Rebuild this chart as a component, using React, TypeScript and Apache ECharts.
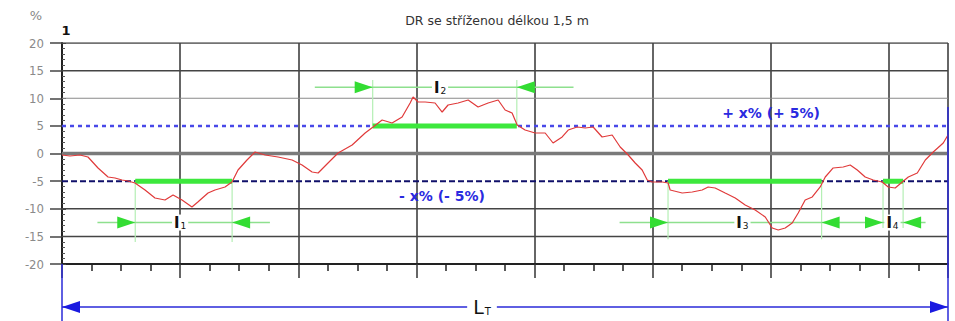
import React, { useEffect, useRef } from "react";
import * as echarts from "echarts";

// Measured deviation curve (x in distance units, grid step = 10)
const distance = [
  0, 0.68, 1.52, 2.2, 3.05, 3.9, 4.49, 5.08, 5.59, 6.18, 7.03, 7.87, 8.72, 9.4, 10.16, 11.0, 11.5, 12.36, 12.95, 13.8,
  14.39, 14.9, 15.66, 16.34, 17.19, 18.29, 19.48, 20.32, 21.17, 21.68, 22.52, 23.37, 24.56, 25.66, 26.33, 27.1, 27.94,
  28.79, 29.47, 29.72, 30.14, 30.74, 31.58, 32.18, 32.68, 33.53, 34.38, 35.22, 36.07, 36.92, 37.51, 38.1, 38.53, 39.2,
  40.05, 40.9, 41.57, 42.34, 42.85, 43.61, 44.29, 44.96, 45.72, 46.57, 47.25, 47.93, 48.52, 49.11, 49.54, 49.96, 50.8,
  51.31, 51.48, 52.5, 53.35, 54.19, 54.7, 55.29, 56.14, 56.99, 57.83, 58.68, 59.53, 60.12, 60.63, 61.22, 61.81, 62.32,
  62.91, 63.51, 64.18, 64.61, 65.28, 66.13, 66.72, 67.32, 67.99, 68.67, 69.43, 69.94, 70.53, 71.13, 71.64, 72.4, 73.08,
  73.75, 74.6, 75.0,
];
const deviation = [
  -0.27, -0.45, -0.27, -0.63, -2.62, -4.25, -4.43, -4.8, -4.98, -5.34, -6.6, -8.05, -8.42, -7.51, -8.42, -9.68, -8.78,
  -7.15, -6.6, -6.06, -5.16, -2.99, -1.18, 0.27, -0.27, -0.63, -1.18, -2.08, -3.35, -3.53, -1.72, 0.09, 1.54, 3.71, 4.8,
  6.06, 5.52, 6.6, 9.14, 10.23, 9.32, 9.32, 9.14, 7.51, 8.78, 9.14, 9.68, 8.42, 9.14, 9.68, 7.87, 7.33, 5.16, 4.25, 3.71,
  3.71, 1.9, 2.99, 4.25, 4.8, 4.62, 4.8, 2.99, 3.35, 1.18, -0.27, -1.72, -2.99, -4.8, -5.16, -5.16, -5.34, -6.6, -7.15,
  -6.97, -6.6, -6.06, -6.24, -7.15, -8.05, -9.32, -10.23, -11.49, -13.48, -13.85, -13.48, -12.58, -10.77, -8.42, -7.87,
  -6.06, -4.25, -2.62, -2.44, -2.08, -2.99, -4.25, -4.8, -5.16, -6.06, -6.24, -5.16, -4.25, -3.53, -1.18, 0.27, 1.9, 3.35,
];

const yTicks = [-20, -15, -10, -5, 0, 5, 10, 15, 20];
const tolerance = 5;

// Exceedance segments l1..l4
const segIds = ["1", "2", "3", "4"];
const segLevel = [-5, 5, -5, -5];
const segStart = [6.2, 26.3, 51.3, 69.5];
const segEnd = [14.4, 38.5, 64.3, 71.2];
const segDimY = [-12.5, 12, -12.5, -12.5];
const segExtTo = [-16, 13.3, -15.5, -13.5];
const segLabelX = [10, 32, 57.6, 70.3];

// Dimension lines
const dimFrom = [3.0, 21.4, 47.2];
const dimTo = [17.6, 43.3, 73.1];
const dimLevel = [-12.5, 12, -12.5];

const TITLE = "DR se stříženou délkou 1,5 m";

export default function App() {
  const ref = useRef<HTMLDivElement>(null);

  useEffect(() => {
    if (!ref.current) return;
    const chart = echarts.init(ref.current, null, { renderer: "svg" });
    const series: any[] = [];

    // horizontal reference lines
    yTicks.forEach((v) => {
      if (v === -20) return;
      let lineStyle: any = { color: "#444", width: 1.5 };
      if (v === 0) lineStyle = { color: "#7a7a7a", width: 3.5 };
      if (v === tolerance) lineStyle = { color: "#4848e8", width: 2.5, type: [4, 4] };
      if (v === -tolerance) lineStyle = { color: "#10106a", width: 2, type: [6, 3] };
      if (v === 10) lineStyle = { color: "#8a8a8a", width: 1 };
      series.push({
        type: "line",
        data: [
          [0, v],
          [75, v],
        ],
        symbol: "none",
        silent: true,
        z: 1,
        lineStyle,
      });
    });

    // extension lines (light green verticals)
    segIds.forEach((_, i) => {
      [segStart[i], segEnd[i]].forEach((x) => {
        series.push({
          type: "line",
          data: [
            [x, segLevel[i]],
            [x, segExtTo[i]],
          ],
          symbol: "none",
          z: 2,
          lineStyle: { color: "#b4efb4", width: 1.2 },
        });
      });
    });

    // dimension lines
    dimFrom.forEach((x0, i) => {
      series.push({
        type: "line",
        data: [
          [x0, dimLevel[i]],
          [dimTo[i], dimLevel[i]],
        ],
        symbol: "none",
        z: 2,
        lineStyle: { color: "#8ee08e", width: 1.5 },
      });
    });

    // green exceedance bars
    segIds.forEach((_, i) => {
      series.push({
        type: "line",
        data: [
          [segStart[i], segLevel[i]],
          [segEnd[i], segLevel[i]],
        ],
        symbol: "none",
        z: 3,
        lineStyle: { color: "#3de83d", width: 5 },
      });
    });

    // arrows
    series.push({
      type: "scatter",
      data: segStart.map((x, i) => [x, segDimY[i]]),
      symbol: "triangle",
      symbolSize: [12, 18],
      symbolRotate: -90,
      symbolOffset: [-9, 0],
      itemStyle: { color: "#33dd33", opacity: 1 },
      z: 4,
    });
    series.push({
      type: "scatter",
      data: segEnd.map((x, i) => [x, segDimY[i]]),
      symbol: "triangle",
      symbolSize: [12, 18],
      symbolRotate: 90,
      symbolOffset: [9, 0],
      itemStyle: { color: "#33dd33", opacity: 1 },
      z: 4,
    });

    // curve
    series.push({
      type: "line",
      data: distance.map((x, i) => [x, deviation[i]]),
      symbol: "none",
      z: 5,
      lineStyle: { color: "#e03a3a", width: 1.2 },
    });

    // labels l1..l4
    series.push({
      type: "scatter",
      data: segLabelX.map((x, i) => [x, segDimY[i]]),
      symbolSize: 1,
      itemStyle: { color: "rgba(0,0,0,0)", opacity: 1 },
      z: 6,
      label: {
        show: true,
        position: "inside",
        formatter: (p: any) => `{m|l}{s|${segIds[p.dataIndex]}}`,
        backgroundColor: "#fff",
        padding: [0, 2],
        rich: {
          m: { fontSize: 16, fontWeight: "bold", color: "#111", fontFamily: "DejaVu Sans" },
          s: { fontSize: 9, color: "#111", padding: [7, 0, 0, 1], fontFamily: "DejaVu Sans" },
        },
      },
    });

    chart.setOption({
      animation: false,
      backgroundColor: "#fff",
      grid: { left: 62, right: 7, top: 43, bottom: 57, containLabel: false },
      xAxis: {
        type: "value",
        min: 0,
        max: 75,
        interval: 10,
        axisLine: { onZero: false, lineStyle: { color: "#222", width: 2 } },
        axisTick: { length: 14, lineStyle: { color: "#333", width: 1.5 } },
        minorTick: { show: true, splitNumber: 4, length: 7, lineStyle: { color: "#222", width: 1.5 } },
        axisLabel: { show: false },
        splitLine: { show: true, lineStyle: { color: "#333", width: 1.5 } },
      },
      yAxis: [
        {
          type: "value",
          min: -20,
          max: 20,
          interval: 5,
          axisLine: { show: true, onZero: false, lineStyle: { color: "#222", width: 2 } },
          axisTick: { show: true, length: 12, lineStyle: { color: "#444", width: 1.5 } },
          axisLabel: {
            color: "#8a8a8a",
            fontSize: 13,
            margin: 18,
            fontFamily: "DejaVu Sans Condensed, DejaVu Sans",
          },
          splitLine: { show: false },
        },
        {
          type: "value",
          min: -20,
          max: 20,
          interval: 5,
          position: "left",
          axisLine: { show: false, onZero: false },
          axisTick: { show: true, inside: true, length: 4, lineStyle: { color: "#444" } },
          minorTick: { show: true, splitNumber: 5, length: 3, lineStyle: { color: "#555" } },
          axisLabel: { show: false },
          splitLine: { show: false },
        },
      ],
      graphic: [
        {
          type: "text",
          x: 497,
          y: 20,
          style: { text: TITLE, fill: "#333", fontSize: 12.5, fontFamily: "DejaVu Sans", align: "center", verticalAlign: "middle" },
        },
        {
          type: "text",
          x: 36,
          y: 15,
          style: { text: "%", fill: "#888", fontSize: 13, fontFamily: "DejaVu Sans", align: "center", verticalAlign: "middle" },
        },
        {
          type: "text",
          x: 66,
          y: 30,
          style: { text: "1", fill: "#111", fontSize: 13, fontWeight: "bold", fontFamily: "DejaVu Sans", align: "center", verticalAlign: "middle" },
        },
        {
          type: "text",
          x: 771,
          y: 113,
          style: { text: "+ x% (+ 5%)", fill: "#2a2ae0", fontSize: 14, fontWeight: "bold", fontFamily: "DejaVu Sans", align: "center", verticalAlign: "middle" },
          z: 10,
        },
        {
          type: "text",
          x: 442,
          y: 196,
          style: { text: "- x% (- 5%)", fill: "#2a2ae0", fontSize: 14, fontWeight: "bold", fontFamily: "DejaVu Sans", align: "center", verticalAlign: "middle" },
          z: 10,
        },
        // L_T dimension
        { type: "line", shape: { x1: 62, y1: 307, x2: 948, y2: 307 }, style: { stroke: "#2a2ad8", lineWidth: 1.5 }, z: 10 },
        { type: "line", shape: { x1: 62, y1: 264, x2: 62, y2: 321 }, style: { stroke: "#2a2ad8", lineWidth: 1.5 }, z: 10 },
        { type: "line", shape: { x1: 948, y1: 107, x2: 948, y2: 321 }, style: { stroke: "#2a2ad8", lineWidth: 1.5 }, z: 10 },
        { type: "polygon", shape: { points: [[62, 307], [80, 301], [80, 313]] }, style: { fill: "#1a1ae0" }, z: 10 },
        { type: "polygon", shape: { points: [[948, 307], [930, 301], [930, 313]] }, style: { fill: "#1a1ae0" }, z: 10 },
        {
          type: "text",
          x: 482,
          y: 307,
          z: 11,
          style: {
            text: "{m|L}{s|T}",
            align: "center",
            verticalAlign: "middle",
            backgroundColor: "#fff",
            padding: [0, 6],
            rich: {
              m: { fontSize: 19, fontFamily: "DejaVu Sans", fill: "#111" },
              s: { fontSize: 10, fontFamily: "DejaVu Sans", fill: "#111", padding: [8, 0, 0, 1] },
            },
          },
        },
      ],
      series,
    });

    return () => chart.dispose();
  }, []);

  return <div ref={ref} style={{ position: "fixed", left: 0, top: 0, width: 955, height: 321 }} />;
}
